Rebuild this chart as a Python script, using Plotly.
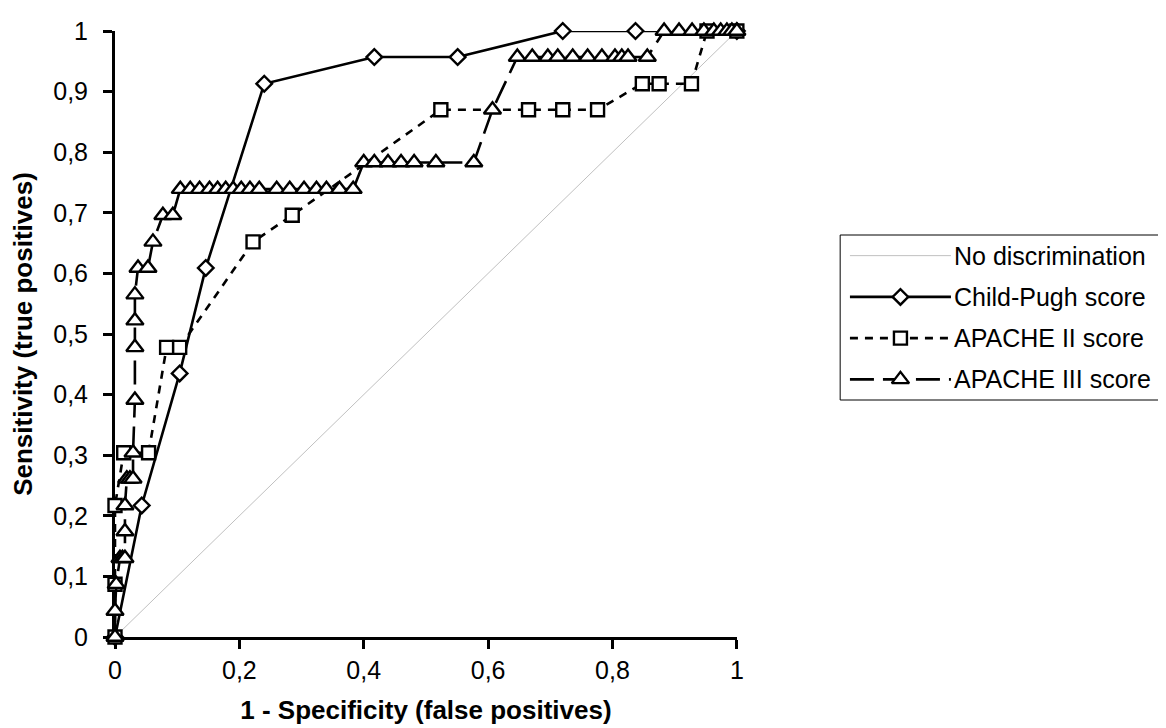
import plotly.graph_objects as go

# ROC points
child_x = [0, 0.043, 0.104, 0.146, 0.24, 0.417, 0.551, 0.72, 0.837, 1]
child_y = [0, 0.217, 0.435, 0.609, 0.913, 0.957, 0.957, 1, 1, 1]

apache2_x = [0, 0, 0, 0.014, 0.054, 0.083, 0.104, 0.222, 0.285,
             0.524, 0.665, 0.72, 0.776, 0.848, 0.875, 0.927, 0.952, 1]
apache2_y = [0, 0.087, 0.217, 0.304, 0.304, 0.478, 0.478, 0.652, 0.696,
             0.87, 0.87, 0.87, 0.87, 0.913, 0.913, 0.913, 1, 1]

apache3_x = [0, 0, 0.002, 0.008, 0.012, 0.016, 0.016, 0.016, 0.019, 0.024,
             0.029, 0.029, 0.032, 0.032, 0.032, 0.032, 0.037, 0.053, 0.061,
             0.077, 0.093, 0.105, 0.121, 0.136, 0.152, 0.165, 0.178, 0.19,
             0.203, 0.217, 0.232, 0.26, 0.281, 0.304, 0.324, 0.34, 0.361,
             0.383, 0.4, 0.417, 0.439, 0.46, 0.481, 0.516, 0.577, 0.607,
             0.647, 0.671, 0.696, 0.712, 0.736, 0.76, 0.783, 0.804, 0.815,
             0.825, 0.856, 0.883, 0.907, 0.928, 0.947, 0.963, 0.974, 0.984,
             0.992, 1]
apache3_y = [0, 0.043, 0.087, 0.13, 0.13, 0.13, 0.174, 0.217, 0.261, 0.261,
             0.261, 0.304, 0.391, 0.478, 0.522, 0.565, 0.609, 0.609, 0.652,
             0.696, 0.696, 0.739, 0.739, 0.739, 0.739, 0.739, 0.739, 0.739,
             0.739, 0.739, 0.739, 0.739, 0.739, 0.739, 0.739, 0.739, 0.739,
             0.739, 0.783, 0.783, 0.783, 0.783, 0.783, 0.783, 0.783, 0.87,
             0.957, 0.957, 0.957, 0.957, 0.957, 0.957, 0.957, 0.957, 0.957,
             0.957, 0.957, 1, 1, 1, 1, 1, 1, 1,
             1, 1]

legend_labels = ["No discrimination", "Child-Pugh score", "APACHE II score", "APACHE III score"]

FONT = "Liberation Sans, Arial, sans-serif"
W, H = 1166, 728
L, R, T, B = 107, 1, 23, 99
plot_w = W - L - R
plot_h = H - T - B

styles = [
    dict(line=dict(color="#c0c0c0", width=1), symbol=None),
    dict(line=dict(color="black", width=2.6), symbol="diamond"),
    dict(line=dict(color="black", width=2.6, dash="8px,7px"), symbol="square"),
    dict(line=dict(color="black", width=2.6, dash="24px,9px"), symbol="triangle-up"),
]
sizes = [0, 12, 13, 15]

fig = go.Figure()

series = [([0, 1], [0, 1]), (child_x, child_y), (apache2_x, apache2_y), (apache3_x, apache3_y)]
for i, (xs, ys) in enumerate(series):
    st = styles[i]
    if st["symbol"] is None:
        fig.add_trace(go.Scatter(x=xs, y=ys, mode="lines", line=st["line"],
                                 showlegend=False, hoverinfo="skip", cliponaxis=False))
    else:
        fig.add_trace(go.Scatter(
            x=xs, y=ys, mode="lines+markers", line=st["line"],
            marker=dict(symbol=st["symbol"], size=sizes[i], color="white",
                        line=dict(color="black", width=2.4)),
            name=legend_labels[i], showlegend=False, cliponaxis=False))

# hand-made legend on its own hidden axes
for i, label in enumerate(legend_labels):
    yc = 3.5 - i
    st = styles[i]
    fig.add_trace(go.Scatter(x=[0.03, 0.34], y=[yc, yc], mode="lines", line=st["line"],
                             xaxis="x2", yaxis="y2", showlegend=False, hoverinfo="skip"))
    if st["symbol"] is not None:
        fig.add_trace(go.Scatter(
            x=[0.185], y=[yc], mode="markers",
            marker=dict(symbol=st["symbol"], size=sizes[i], color="white",
                        line=dict(color="black", width=2.4)),
            xaxis="x2", yaxis="y2", showlegend=False, hoverinfo="skip"))
    fig.add_annotation(x=0.343, y=yc, xref="x2", yref="y2", text=label,
                       showarrow=False, xanchor="left", yanchor="middle",
                       font=dict(family=FONT, size=25, color="black"))

fig.add_shape(type="rect", xref="x2 domain", yref="y2 domain", x0=0, x1=1, y0=0, y1=1,
              line=dict(color="black", width=1))

axis_common = dict(
    showgrid=False, zeroline=False, showline=True, linecolor="black", linewidth=3,
    ticks="outside", ticklen=9, tickwidth=2.5, tickcolor="black",
    tickfont=dict(family=FONT, size=25, color="black"), layer="below traces",
)

fig.update_layout(
    width=W, height=H,
    margin=dict(l=L, r=R, t=T, b=B),
    paper_bgcolor="white", plot_bgcolor="white",
    separators=", ",
    showlegend=False,
    xaxis=dict(domain=[0, 626 / plot_w], range=[0, 1], dtick=0.2,
               title=dict(text="<b>1 - Specificity (false positives)</b>", standoff=18,
                          font=dict(family=FONT, size=26, color="black")),
               **axis_common),
    yaxis=dict(range=[0, 1], dtick=0.1, ticklabelstandoff=10,
               title=dict(text="<b>Sensitivity (true positives)</b>", standoff=14,
                          font=dict(family=FONT, size=26, color="black")),
               **axis_common),
    xaxis2=dict(domain=[(837 - L) / plot_w, 1], range=[0, 1], visible=False, anchor="y2"),
    yaxis2=dict(domain=[(629 - 392) / plot_h, (629 - 227) / plot_h], range=[0, 4],
                visible=False, anchor="x2"),
)

fig.write_html("out.html")
